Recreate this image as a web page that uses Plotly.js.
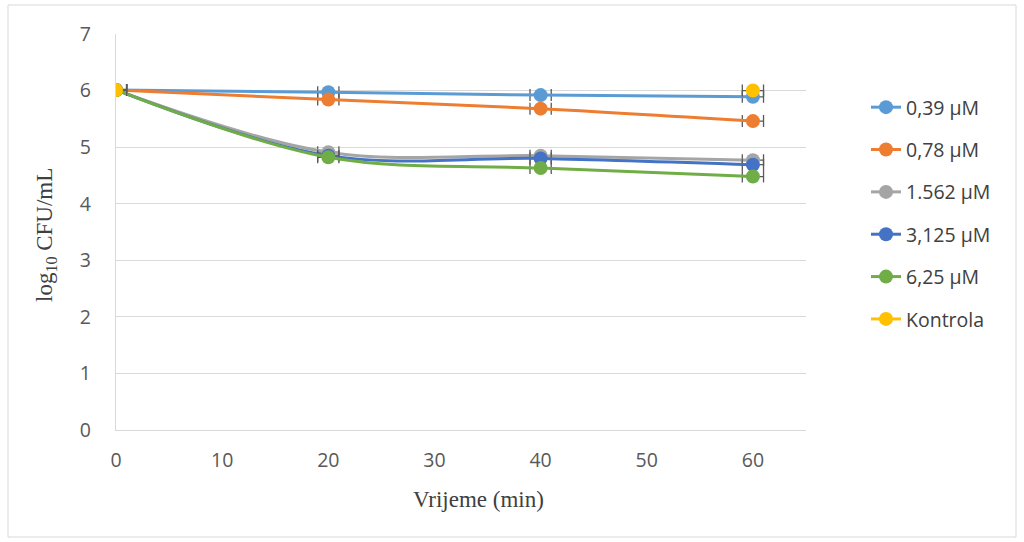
<!DOCTYPE html>
<html>
<head>
<meta charset="utf-8">
<script src="https://cdn.plot.ly/plotly-3.0.1.min.js"></script>
<style>html,body{margin:0;padding:0;background:#fff}#chart{width:1024px;height:542px}</style>
</head>
<body>
<div id="chart"></div>
<script>
const time = [0, 20, 40, 60];
const seriesNames = ['0,39 µM', '0,78 µM', '1.562 µM', '3,125 µM', '6,25 µM', 'Kontrola'];
const s039 = [6.01, 5.97, 5.92, 5.89];
const s078 = [6.01, 5.84, 5.68, 5.46];
const s1562 = [6.01, 4.91, 4.85, 4.77];
const s3125 = [6.01, 4.85, 4.80, 4.69];
const s625 = [6.01, 4.82, 4.63, 4.48];
const sKontrola = [6.01, null, null, 6.00];
const timeError = [1, 1, 1, 1];
const xTicks = [0, 10, 20, 30, 40, 50, 60];
const yTicks = [0, 1, 2, 3, 4, 5, 6, 7];

const colors = ['#5B9BD5', '#ED7D31', '#A5A5A5', '#4472C4', '#70AD47', '#FFC000'];
const allSeries = [s039, s078, s1562, s3125, s625, sKontrola];

const traces = allSeries.map((ys, i) => ({
  x: time,
  y: ys,
  name: seriesNames[i],
  legendgroup: 'g' + i,
  type: 'scatter',
  mode: 'lines+markers',
  line: {color: colors[i], width: 3, shape: 'spline', smoothing: 1},
  marker: {color: colors[i], size: 14},
  connectgaps: false,
  error_x: {type: 'data', array: timeError, visible: true, color: '#595959', thickness: 1.3, width: 6}
}));

const W = 690, H = 396, L = 116, T = 34;
function px(x) { return (x - L) / W; }
function py(y) { return (T + H - y) / H; }

const layout = {
  width: 1024, height: 542,
  margin: {l: L, r: 1024 - L - W, t: T, b: 542 - T - H},
  paper_bgcolor: '#ffffff', plot_bgcolor: '#ffffff',
  showlegend: true,
  legend: {
    x: px(866), y: py(88), xanchor: 'left', yanchor: 'top',
    font: {family: 'Open Sans, Liberation Sans, sans-serif', size: 19.5, color: '#404040'},
    tracegroupgap: 14, bgcolor: 'rgba(0,0,0,0)'
  },
  xaxis: {
    range: [0, 65], tickvals: xTicks, ticktext: xTicks.map(String),
    showgrid: false, zeroline: false,
    showline: true, linecolor: '#d9d9d9', linewidth: 1.2,
    ticks: '', ticklabelstandoff: 12,
    tickfont: {family: 'Open Sans, Liberation Sans, sans-serif', size: 19.5, color: '#595959'},
    fixedrange: true
  },
  yaxis: {
    range: [0, 7], tickvals: yTicks, ticktext: yTicks.map(String),
    showgrid: true, gridcolor: '#d9d9d9', gridwidth: 1.2, zeroline: false,
    showline: true, linecolor: '#d9d9d9', linewidth: 1.2,
    ticks: '', ticklabelstandoff: 20,
    tickfont: {family: 'Open Sans, Liberation Sans, sans-serif', size: 19.5, color: '#595959'},
    fixedrange: true
  },
  annotations: [
    {xref: 'paper', yref: 'paper', x: px(478), y: py(500), text: 'Vrijeme (min)', showarrow: false,
     font: {family: 'Liberation Serif, Times New Roman, serif', size: 23, color: '#404040'},
     xanchor: 'center', yanchor: 'middle'},
    {xref: 'paper', yref: 'paper', x: px(46), y: py(235), text: 'log<sub>10</sub> CFU/mL', showarrow: false,
     textangle: -90,
     font: {family: 'Liberation Serif, Times New Roman, serif', size: 23, color: '#404040'},
     xanchor: 'center', yanchor: 'middle'}
  ],
  shapes: [
    {type: 'rect', xref: 'paper', yref: 'paper', x0: px(8), x1: px(1016), y0: py(537), y1: py(5),
     line: {color: '#d9d9d9', width: 1}, fillcolor: 'rgba(0,0,0,0)', layer: 'below'}
  ]
};

Plotly.newPlot('chart', traces, layout, {displayModeBar: false, staticPlot: true});
</script>
</body>
</html>
